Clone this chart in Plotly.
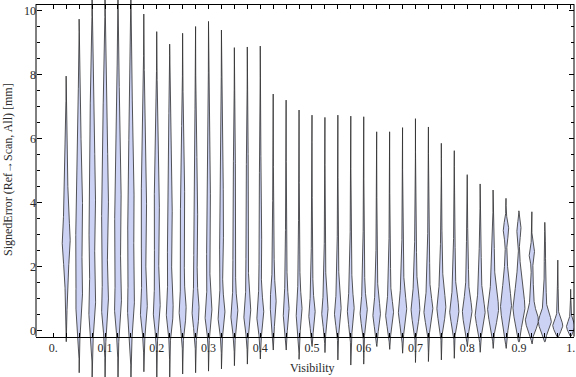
import numpy as np
import plotly.graph_objects as go

# ---------------- data ----------------
visibility = [0.025, 0.05, 0.075, 0.1, 0.125, 0.15, 0.175, 0.2, 0.225, 0.25,
              0.275, 0.3, 0.325, 0.35, 0.375, 0.4, 0.425, 0.45, 0.475, 0.5,
              0.525, 0.55, 0.575, 0.6, 0.625, 0.65, 0.675, 0.7, 0.725, 0.75,
              0.775, 0.8, 0.825, 0.85, 0.875, 0.9, 0.925, 0.95, 0.975, 1.0]

err_max = [7.95, 9.73, 10.6, 10.6, 10.6, 10.6, 9.89, 9.34, 8.95, 9.29,
           9.50, 9.66, 9.39, 8.84, 8.86, 8.89, 7.39, 7.20, 6.89, 6.73,
           6.66, 6.73, 6.70, 6.68, 6.21, 6.21, 6.34, 6.62, 6.36, 5.85,
           5.62, 4.87, 4.58, 4.39, 4.13, 3.74, 3.71, 3.38, 2.20, 1.29]

err_min = [-0.35, -1.32, -1.5, -1.5, -1.5, -1.5, -1.29, -1.5, -1.5, -1.36,
           -1.32, -1.27, -1.20, -1.10, -1.05, -0.89, -0.61, -0.61, -0.90, -0.50,
           -0.69, -0.92, -1.08, -1.05, -0.50, -0.59, -0.71, -1.00, -0.97, -0.92,
           -0.87, -0.50, -0.68, -0.56, -0.56, -0.35, -0.42, -0.35, -0.19, -0.17]

# density modes (centre, spread, relative weight) for each violin
mode1_mu = [2.7, 0.8, 0.7, 0.7, 0.7, 0.7, 0.6, 0.6, 0.6, 0.6,
            0.6, 0.5, 0.5, 0.5, 0.5, 0.5, 0.8, 0.6, 0.6, 0.5,
            0.55, 0.55, 0.6, 0.55, 0.5, 0.5, 0.6, 0.65, 0.6, 0.7,
            0.6, 0.55, 0.5, 0.65, 0.7, 0.65, 0.3, 0.25, 0.15, 0.12]
mode1_sd = [0.7, 0.6, 0.6, 0.6, 0.6, 0.6, 0.5, 0.5, 0.5, 0.5,
            0.5, 0.45, 0.45, 0.45, 0.45, 0.45, 0.5, 0.45, 0.45, 0.4,
            0.4, 0.4, 0.45, 0.4, 0.4, 0.4, 0.45, 0.45, 0.4, 0.45,
            0.4, 0.4, 0.4, 0.45, 0.5, 0.45, 0.28, 0.25, 0.18, 0.15]
mode1_w = [1.0, 0.7, 0.8, 0.8, 0.8, 0.8, 0.9, 0.9, 0.9, 1.0,
           1.0, 1.0, 1.0, 1.0, 1.0, 1.0, 1.0, 1.0, 1.0, 1.0,
           1.0, 1.0, 1.0, 1.0, 1.0, 1.0, 1.0, 1.0, 1.0, 1.0,
           1.0, 1.0, 1.0, 1.0, 1.0, 1.0, 1.0, 1.0, 1.0, 1.0]

mode2_mu = [4.6, 3.4, 3.8, 3.8, 3.6, 3.6, 3.4, 3.3, 3.2, 3.2,
            3.2, 3.2, 3.3, 3.0, 3.0, 2.8, 2.2, 2.0, 2.0, 1.8,
            1.8, 1.8, 1.9, 1.8, 1.7, 1.7, 1.7, 1.8, 1.8, 1.8,
            1.7, 1.6, 1.5, 1.6, 1.6, 1.5, 1.1, 1.0, 0.8, 0.5]
mode2_sd = [1.4, 1.6, 1.8, 1.8, 1.8, 1.8, 1.7, 1.7, 1.6, 1.6,
            1.6, 1.5, 1.5, 1.5, 1.5, 1.5, 1.2, 1.1, 1.1, 1.0,
            1.0, 1.0, 1.0, 1.0, 0.9, 0.9, 0.9, 0.9, 0.9, 0.9,
            0.9, 0.8, 0.8, 0.7, 0.7, 0.6, 0.5, 0.5, 0.4, 0.25]
mode2_w = [0.45, 1.0, 1.0, 1.0, 1.0, 1.0, 0.9, 0.85, 0.8, 0.75,
           0.7, 0.7, 0.65, 0.55, 0.5, 0.45, 0.35, 0.3, 0.3, 0.28,
           0.28, 0.28, 0.3, 0.28, 0.25, 0.25, 0.28, 0.3, 0.3, 0.3,
           0.28, 0.28, 0.3, 0.3, 0.35, 0.4, 0.3, 0.25, 0.15, 0.15]

mode3_mu = [0.9, 6.5, 7.2, 7.2, 7.0, 7.0, 6.6, 6.2, 6.0, 6.0,
            6.0, 6.0, 6.0, 5.8, 5.8, 5.6, 4.2, 4.0, 4.0, 3.8,
            3.8, 3.8, 3.8, 3.8, 3.6, 3.6, 3.6, 3.6, 3.6, 3.6,
            3.4, 3.0, 2.9, 2.8, 3.15, 3.15, 2.4, 2.5, 1.7, 0.9]
mode3_sd = [0.5, 1.2, 1.3, 1.3, 1.3, 1.3, 1.2, 1.2, 1.2, 1.2,
            1.2, 1.2, 1.2, 1.2, 1.2, 1.2, 1.2, 1.2, 1.2, 1.2,
            1.2, 1.2, 1.2, 1.2, 1.2, 1.2, 1.2, 1.2, 1.2, 1.0,
            1.0, 0.8, 0.6, 0.5, 0.25, 0.22, 0.22, 0.3, 0.3, 0.2]
mode3_w = [0.25, 0.3, 0.35, 0.35, 0.35, 0.3, 0.3, 0.25, 0.25, 0.25,
           0.2, 0.2, 0.2, 0.15, 0.15, 0.12, 0.1, 0.08, 0.08, 0.07,
           0.07, 0.07, 0.07, 0.07, 0.06, 0.06, 0.06, 0.06, 0.06, 0.06,
           0.06, 0.08, 0.1, 0.15, 0.55, 0.4, 0.45, 0.15, 0.04, 0.03]

# widest half-width of each violin, in Visibility units
peak_halfwidth = [0.0077, 0.0068, 0.0068, 0.0068, 0.0068, 0.0068, 0.0068, 0.0068, 0.0068, 0.0068,
                  0.0068, 0.0068, 0.0068, 0.0068, 0.0068, 0.0068, 0.0058, 0.0058, 0.0058, 0.0062,
                  0.0062, 0.0066, 0.0066, 0.0070, 0.0073, 0.0077, 0.0081, 0.0085, 0.0087, 0.0087,
                  0.0089, 0.0093, 0.0097, 0.0106, 0.0106, 0.0116, 0.0126, 0.0126, 0.0097, 0.0081]

x_major = [0.0, 0.1, 0.2, 0.3, 0.4, 0.5, 0.6, 0.7, 0.8, 0.9, 1.0]
x_major_text = ["0.", "0.1", "0.2", "0.3", "0.4", "0.5", "0.6", "0.7", "0.8", "0.9", "1."]
y_major = [0, 2, 4, 6, 8, 10]
y_major_text = ["0", "2", "4", "6", "8", "10"]

# ---------------- figure ----------------
X_RANGE = [-0.0334, 1.0064]
Y_RANGE = [-1.453, 10.328]
Y_AXIS_AT = -0.194
Y_TOP = 10.2

FILL = "rgb(204,210,243)"
EDGE = "rgba(45,45,45,0.8)"

fig = go.Figure()

for i, v in enumerate(visibility):
    ys = np.linspace(err_min[i], err_max[i], 400)
    dens = (mode1_w[i] * np.exp(-0.5 * ((ys - mode1_mu[i]) / mode1_sd[i]) ** 2)
            + mode2_w[i] * np.exp(-0.5 * ((ys - mode2_mu[i]) / mode2_sd[i]) ** 2)
            + mode3_w[i] * np.exp(-0.5 * ((ys - mode3_mu[i]) / mode3_sd[i]) ** 2))
    hw = peak_halfwidth[i] * dens / dens.max()
    px = np.concatenate([v + hw, (v - hw)[::-1], [v + hw[0]]])
    py = np.concatenate([ys, ys[::-1], [ys[0]]])
    fig.add_trace(go.Scatter(x=px, y=py, mode="lines", fill="toself",
                             fillcolor=FILL, line=dict(color=EDGE, width=1),
                             hoverinfo="skip", showlegend=False))

# dummy trace for the frame axes
fig.add_trace(go.Scatter(x=[None], y=[None], xaxis="x2", yaxis="y2",
                         showlegend=False, hoverinfo="skip"))

x_minor = [v for v in visibility if round(v * 40) % 4 != 0]
y_minor = [k * 0.5 for k in range(1, 21) if k % 4 != 0]

tickfont = dict(family="Liberation Serif", size=12, color="#2a2a2a")
axis_common = dict(showgrid=False, zeroline=False, ticks="inside", automargin=False,
                   tickcolor="black", tickwidth=1, linecolor="black", linewidth=1)

x_pos = (Y_AXIS_AT - Y_RANGE[0]) / (Y_RANGE[1] - Y_RANGE[0])
x2_pos = (Y_TOP - Y_RANGE[0]) / (Y_RANGE[1] - Y_RANGE[0])

fig.update_layout(
    width=576, height=377,
    margin=dict(l=36, r=2, t=0, b=0, autoexpand=False),
    paper_bgcolor="white", plot_bgcolor="white",
    showlegend=False,
    xaxis=dict(range=X_RANGE, anchor="free", position=x_pos,
               tickmode="array", tickvals=x_major, ticktext=x_major_text,
               ticklen=4, showline=True, tickfont=tickfont,
               minor=dict(tickvals=x_minor, ticks="inside", ticklen=4,
                          tickcolor="black", tickwidth=1),
               **axis_common),
    xaxis2=dict(range=X_RANGE, overlaying="x", side="top", anchor="free",
                position=x2_pos, tickmode="array", tickvals=x_major,
                showticklabels=False, ticklen=4, showline=True,
                minor=dict(tickvals=x_minor, ticks="inside", ticklen=4,
                           tickcolor="black", tickwidth=1),
                **axis_common),
    yaxis=dict(range=Y_RANGE, anchor="free", position=0,
               tickmode="array", tickvals=y_major, ticktext=y_major_text,
               ticklen=5, showline=False, tickfont=tickfont,
               minor=dict(tickvals=y_minor, ticks="inside", ticklen=3,
                          tickcolor="black", tickwidth=1),
               **axis_common),
    yaxis2=dict(range=Y_RANGE, overlaying="y", side="right", anchor="free",
                position=1, tickmode="array", tickvals=y_major,
                showticklabels=False, ticklen=5, showline=False,
                minor=dict(tickvals=y_minor, ticks="inside", ticklen=3,
                           tickcolor="black", tickwidth=1),
                **axis_common),
    shapes=[
        dict(type="line", xref="paper", yref="y", x0=0, x1=0,
             y0=Y_AXIS_AT, y1=Y_TOP, line=dict(color="black", width=1)),
        dict(type="line", xref="paper", yref="y", x0=1, x1=1,
             y0=Y_AXIS_AT, y1=Y_TOP, line=dict(color="black", width=1)),
    ],
    annotations=[
        dict(text="Visibility", xref="paper", yref="paper",
             x=(312 - 36) / 538, y=(377 - 368) / 377,
             xanchor="center", yanchor="middle", showarrow=False,
             font=dict(family="Liberation Serif", size=12, color="#2a2a2a")),
        dict(text="SignedError (Ref\u2192Scan, All) [mm]", xref="paper", yref="paper",
             x=(8 - 36) / 538, y=(377 - 170) / 377, textangle=-90,
             xanchor="center", yanchor="middle", showarrow=False,
             font=dict(family="Liberation Serif", size=12, color="#2a2a2a")),
    ],
)

fig.write_html("out.html", config={"displayModeBar": False},
               post_script="document.body.style.margin='0px';document.body.style.padding='0px';")
